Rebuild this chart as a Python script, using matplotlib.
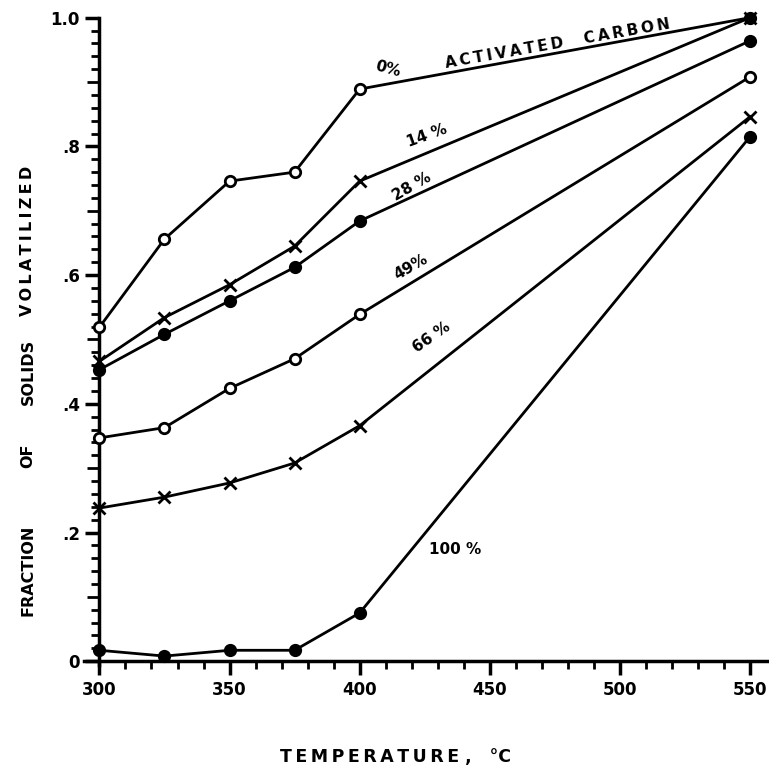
import numpy as np
import matplotlib
matplotlib.use("Agg")
from matplotlib import pyplot as plt
from matplotlib.ticker import MultipleLocator

plt.rcParams['font.family'] = ['DejaVu Sans']
plt.rcParams['font.weight'] = 'bold'

temps = [300, 325, 350, 375, 400, 550]

c0 = [0.519, 0.656, 0.746, 0.760, 0.889, 1.000]
c14 = [0.466, 0.534, 0.585, 0.645, 0.746, 1.000]
c28 = [0.453, 0.508, 0.560, 0.612, 0.684, 0.964]
c49 = [0.347, 0.363, 0.424, 0.470, 0.539, 0.908]
c66 = [0.238, 0.255, 0.277, 0.308, 0.366, 0.846]
c100 = [0.017, 0.008, 0.017, 0.017, 0.075, 0.815]

series = [c0, c14, c28, c49, c66, c100]
markers = ['o', 'x', 'o', 'o', 'x', 'o']
filled = [False, False, True, False, False, True]

xticks = [300, 350, 400, 450, 500, 550]
yticks = [0, 0.2, 0.4, 0.6, 0.8, 1.0]
ylabels = ['0', '.2', '.4', '.6', '.8', '1.0']

fig = plt.figure(figsize=(7.69, 7.68), dpi=100)
ax = fig.add_axes([0.109, 0.134, 0.89, 0.843])

for ys, m, f in zip(series, markers, filled):
    ax.plot(temps, ys, color='black', lw=2, marker=m, ms=7.5 if m == 'o' else 9,
            mew=2, mfc='black' if f else 'white', mec='black', zorder=3,
            clip_on=False)
# 0% end point is a solid dot
ax.plot(temps[-1], c0[-1], 'o', color='black', ms=7.5, clip_on=False, zorder=4)

ax.set_xlim(294, 557)
ax.set_ylim(-0.006, 1.0)
ax.spines['left'].set_position(('data', 300))
ax.spines['bottom'].set_position(('data', 0))
ax.spines['top'].set_visible(False)
ax.spines['right'].set_visible(False)
for s in ['left', 'bottom']:
    ax.spines[s].set_linewidth(2.5)

ax.set_xticks(xticks)
ax.set_xticklabels([str(t) for t in xticks], fontsize=12, fontweight='bold')
ax.set_yticks(yticks)
ax.set_yticklabels(ylabels, fontsize=12, fontweight='bold')
ax.xaxis.set_minor_locator(MultipleLocator(10))
ax.yaxis.set_minor_locator(MultipleLocator(0.02))
ax.tick_params(which='major', direction='out', length=10, width=2.5, pad=4)
ax.tick_params(which='minor', direction='out', length=6, width=2)
for t, v in zip(ax.yaxis.get_minor_ticks(), ax.yaxis.get_minorticklocs()):
    if abs(v * 10 - round(v * 10)) < 1e-6:
        t.tick1line.set_markersize(9)

# axis titles
ax.set_xlabel('T\u2009E\u2009M\u2009P\u2009E\u2009R\u2009A\u2009T\u2009U\u2009R\u2009E ,   °C',
              fontsize=12.5, fontweight='bold', va='top')
ax.xaxis.set_label_coords(0.456, -0.128)
ylab_words = [('FRACTION', 570), ('OF', 456), ('SOLIDS', 372),
              ('V\u2009O\u2009L\u2009A\u2009T\u2009I\u2009L\u2009I\u2009Z\u2009E\u2009D', 241)]
for word, py in ylab_words:
    fig.text(28 / 769, 1 - py / 768, word, rotation=90, fontsize=11.5,
             fontweight='bold', ha='center', va='center')

lab = dict(fontsize=11, fontweight='bold', ha='center', va='center')
ax.text(411, 0.921, '0%', rotation=-15, **lab)
ax.text(476, 0.960, 'A\u2009C\u2009T\u2009I\u2009V\u2009A\u2009T\u2009E\u2009D    C\u2009A\u2009R\u2009B\u2009O\u2009N',
        rotation=10, **lab)
ax.text(425.7, 0.816, '14 %', rotation=20, **lab)
ax.text(420, 0.738, '28 %', rotation=30, **lab)
ax.text(419.5, 0.612, '49%', rotation=30, **lab)
ax.text(427.6, 0.503, '66 %', rotation=35, **lab)
ax.text(436.8, 0.173, '100 %', rotation=0, **lab)

fig.savefig('out.png', dpi=100)
